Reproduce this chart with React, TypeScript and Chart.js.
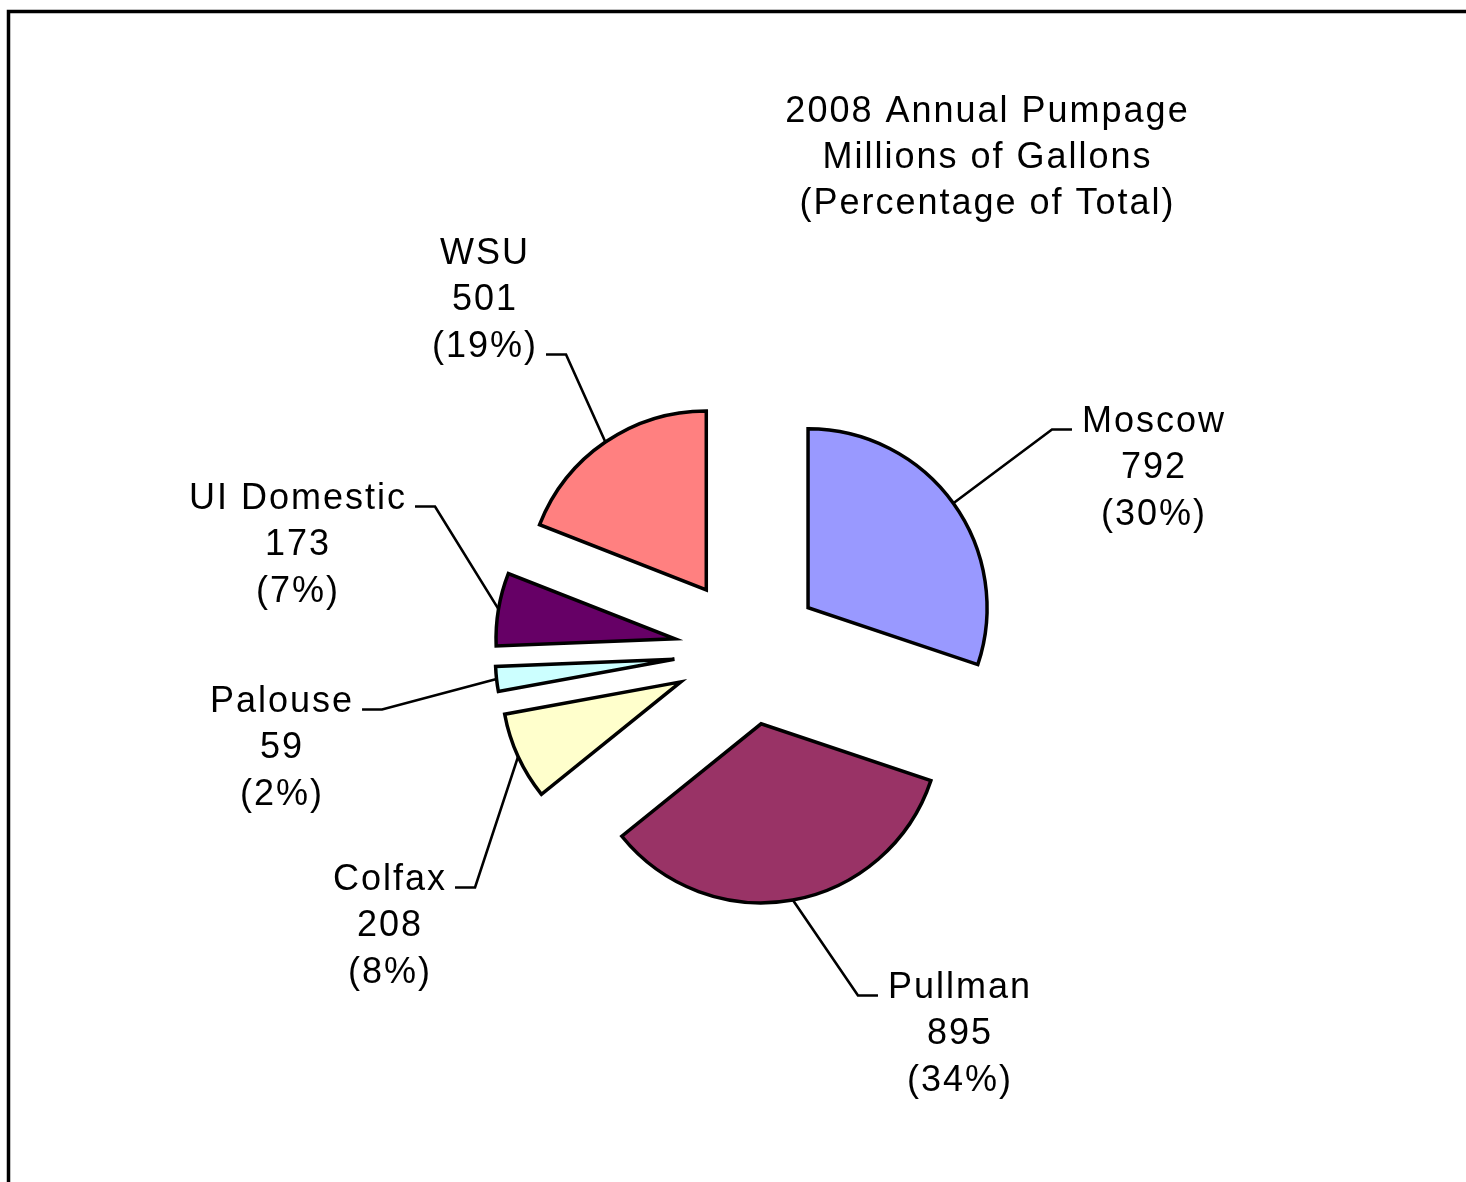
import React, { useEffect, useRef } from 'react';
import { Chart, registerables } from 'chart.js';

Chart.register(...registerables);

// ---- data ----
const categories = ['Moscow', 'Pullman', 'Colfax', 'Palouse', 'UI Domestic', 'WSU'];
const pumpage = [792, 895, 208, 59, 173, 501];
const titleLines = ['2008 Annual Pumpage', 'Millions of Gallons', '(Percentage of Total)'];

// ---- styles / layout ----
const sliceColors = ['#9999FF', '#993366', '#FFFFCC', '#CCFFFF', '#660066', '#FF8080'];
const EXPLODE = 74;
const PIE_RADIUS = 179;
const FONT = '36px "Liberation Sans", Arial, sans-serif';
const LETTER_SPACING = 2;
const LINE_H = 46.5;
// label block: centre x and middle-line baseline, relative to the pie centre
const labelOffsets: [number, number][] = [
  [405, -173],
  [211, 393],
  [-359, 285],
  [-467, 107],
  [-451, -96],
  [-264, -341],
];
const leaderLineIndex = [0, 0, 0, 0, 0, 2];
const TITLE_X = 986.5;
const TITLE_BASE = 122;
const TITLE_LINE_H = 46;

function setFont(ctx: CanvasRenderingContext2D) {
  ctx.font = FONT;
  (ctx as any).letterSpacing = LETTER_SPACING + 'px';
  ctx.textAlign = 'left';
  ctx.textBaseline = 'alphabetic';
  ctx.fillStyle = '#000';
}

function textWidth(ctx: CanvasRenderingContext2D, s: string) {
  return ctx.measureText(s).width - LETTER_SPACING;
}

function drawCentered(ctx: CanvasRenderingContext2D, s: string, cx: number, y: number) {
  const w = textWidth(ctx, s);
  ctx.fillText(s, cx - w / 2, y);
}

const piePlugin = {
  id: 'explodedPieLabels',
  afterDatasetUpdate(chart: any, args: any) {
    const meta = chart.getDatasetMeta(args.index);
    meta.data.forEach((arc: any) => {
      const mid = (arc.startAngle + arc.endAngle) / 2;
      arc.x += Math.cos(mid) * EXPLODE;
      arc.y += Math.sin(mid) * EXPLODE;
    });
  },
  beforeDraw(chart: any) {
    const ctx: CanvasRenderingContext2D = chart.ctx;
    ctx.save();
    ctx.fillStyle = '#fff';
    ctx.fillRect(0, 0, chart.width, chart.height);
    ctx.strokeStyle = '#000';
    ctx.lineWidth = 3.5;
    ctx.strokeRect(8.5, 11.5, chart.width + 20, chart.height + 20);
    ctx.restore();
  },
  afterDatasetsDraw(chart: any) {
    const ctx: CanvasRenderingContext2D = chart.ctx;
    const area = chart.chartArea;
    const pcx = (area.left + area.right) / 2;
    const pcy = (area.top + area.bottom) / 2;
    const values: number[] = chart.data.datasets[0].data;
    const total = values.reduce((a, b) => a + b, 0);
    const meta = chart.getDatasetMeta(0);
    ctx.save();
    setFont(ctx);
    // title
    titleLines.forEach((t, i) => drawCentered(ctx, t, TITLE_X, TITLE_BASE + i * TITLE_LINE_H));
    // labels
    meta.data.forEach((arc: any, i: number) => {
      const lines = [
        chart.data.labels[i],
        String(values[i]),
        '(' + Math.round((values[i] / total) * 100) + '%)',
      ];
      const cx = pcx + labelOffsets[i][0];
      const midBase = pcy + labelOffsets[i][1];
      const bases = [midBase - LINE_H, midBase, midBase + LINE_H];
      lines.forEach((s, j) => drawCentered(ctx, s, cx, bases[j]));
      // leader line
      const mid = (arc.startAngle + arc.endAngle) / 2;
      const px = arc.x + arc.outerRadius * Math.cos(mid);
      const py = arc.y + arc.outerRadius * Math.sin(mid);
      const j = leaderLineIndex[i];
      const w = textWidth(ctx, lines[j]);
      const dir = cx > px ? -1 : 1;
      const edge = cx + (dir * w) / 2;
      const hy = bases[j] - 2;
      const h1 = edge + dir * 10;
      const h2 = h1 + dir * 20;
      ctx.beginPath();
      ctx.moveTo(px, py);
      ctx.lineTo(h2, hy);
      ctx.lineTo(h1, hy);
      ctx.strokeStyle = '#000';
      ctx.lineWidth = 2.6;
      ctx.lineJoin = 'miter';
      ctx.stroke();
    });
    ctx.restore();
  },
};

export default function App() {
  const ref = useRef<HTMLCanvasElement>(null);
  useEffect(() => {
    if (!ref.current) return;
    const chart = new Chart(ref.current, {
      type: 'pie',
      data: {
        labels: categories,
        datasets: [
          {
            data: pumpage,
            backgroundColor: sliceColors,
            borderColor: '#000',
            borderWidth: 3.5,
            borderJoinStyle: 'miter',
          } as any,
        ],
      },
      options: {
        responsive: false,
        animation: false,
        events: [],
        radius: PIE_RADIUS,
        layout: { padding: { left: 30, right: 0, top: 120, bottom: 0 } },
        plugins: {
          legend: { display: false },
          tooltip: { enabled: false },
          title: { display: false },
        },
      } as any,
      plugins: [piePlugin as any],
    });
    return () => chart.destroy();
  }, []);
  return (
    <div style={{ position: 'absolute', left: 0, top: 0, width: 1466, height: 1182 }}>
      <canvas ref={ref} width={1466} height={1182} style={{ display: 'block', width: 1466, height: 1182 }} />
    </div>
  );
}
